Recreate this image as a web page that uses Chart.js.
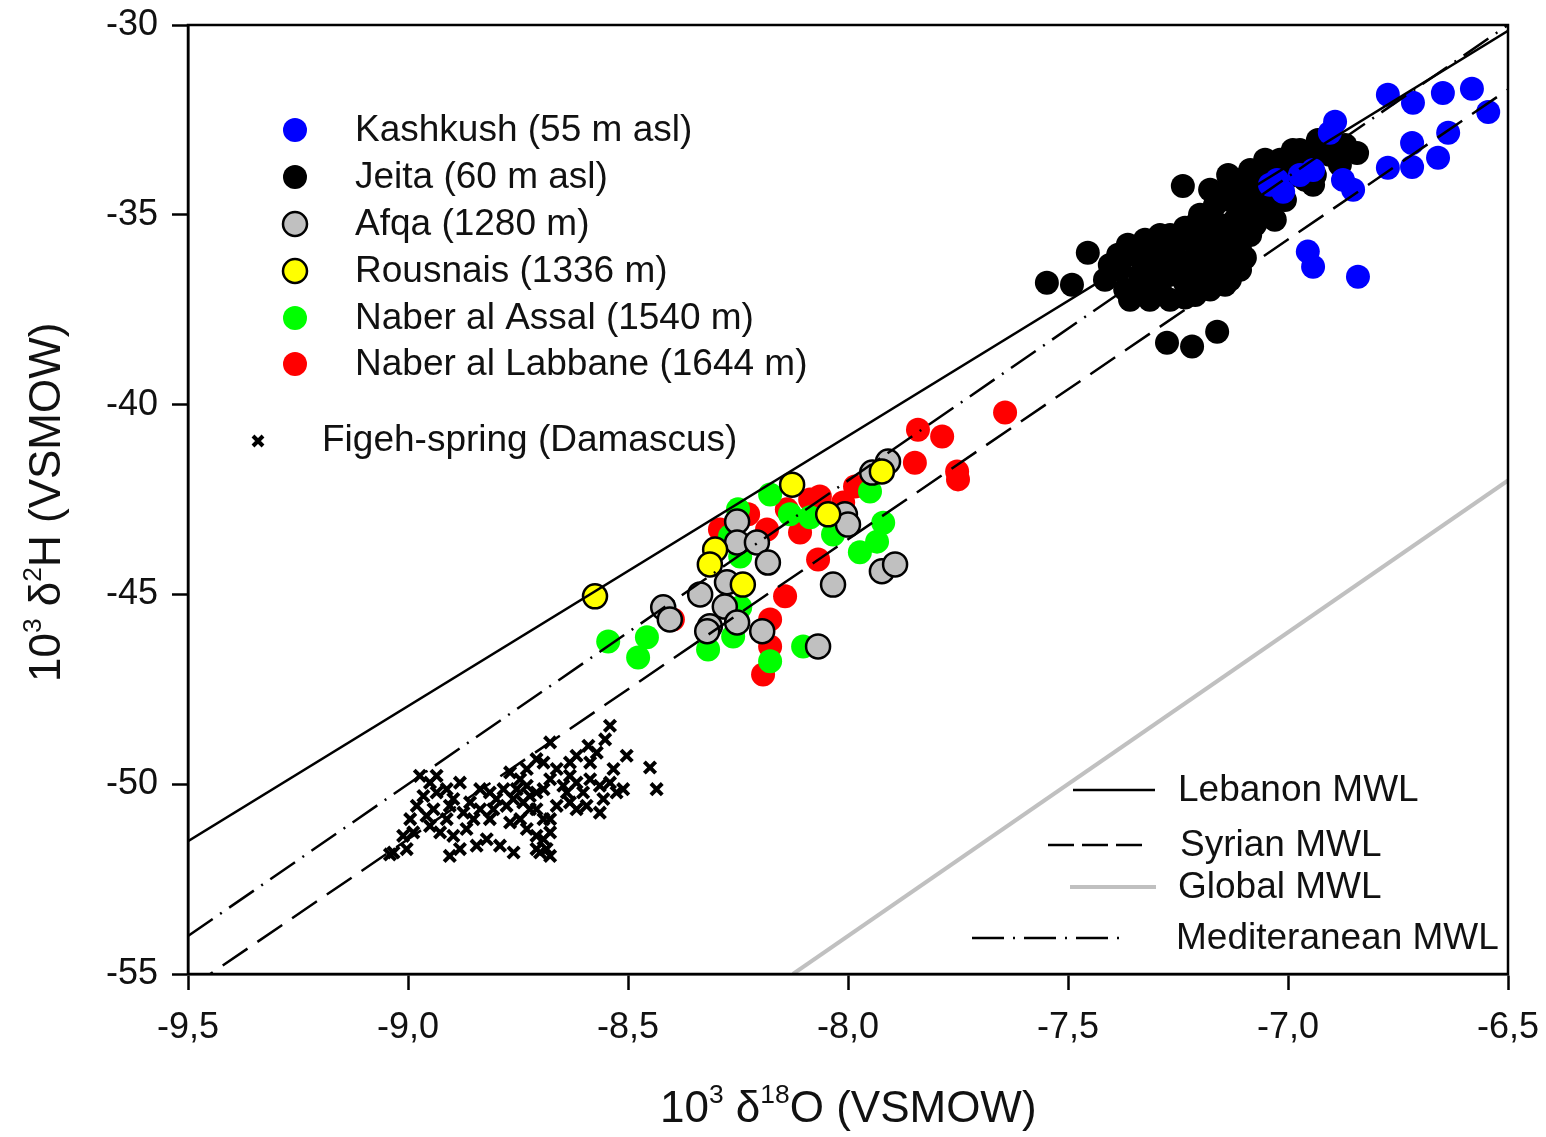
<!DOCTYPE html>
<html><head><meta charset="utf-8">
<script src="https://cdn.jsdelivr.net/npm/chart.js@4/dist/chart.umd.min.js"></script>
<style>html,body{margin:0;padding:0;background:#fff}#wrap{position:relative;width:1546px;height:1137px}</style>
</head><body><div id="wrap"><canvas id="c" width="1546" height="1137"></canvas></div>
<script>
// ---- Data ----
const xTickValues = [-9.5, -9.0, -8.5, -8.0, -7.5, -7.0, -6.5];
const xTickLabels = ['-9,5', '-9,0', '-8,5', '-8,0', '-7,5', '-7,0', '-6,5'];
const yTickValues = [-30, -35, -40, -45, -50, -55];
const yTickLabels = ['-30', '-35', '-40', '-45', '-50', '-55'];

const kashkush = [[-6.773,-31.84],[-6.716,-32.05],[-6.648,-31.79],[-6.582,-31.68],[-6.545,-32.29],[-6.893,-32.55],[-6.905,-32.84],[-6.636,-32.84],[-6.718,-33.11],[-6.718,-33.74],[-6.659,-33.50],[-6.773,-33.76],[-6.875,-34.08],[-6.852,-34.34],[-6.943,-33.82],[-7.025,-34.08],[-7.011,-34.39],[-6.955,-35.97],[-6.943,-36.37],[-6.841,-36.63],[-6.973,-33.95],[-7.041,-34.21]];

const jeita = [[-7.239,-34.24],[-7.455,-36.00],[-7.386,-36.05],[-7.548,-36.79],[-7.491,-36.84],[-7.275,-38.37],[-7.218,-38.47],[-7.161,-38.08],[-6.843,-33.37],[-6.870,-33.16],[-6.989,-33.29],[-7.052,-33.55],[-6.943,-34.21],
[-7.325,-35.66],[-7.291,-35.53],[-7.257,-35.79],[-7.223,-35.66],[-7.189,-35.53],[-7.155,-35.39],[-7.120,-35.66],[-7.314,-36.18],[-7.280,-36.05],[-7.245,-36.24],[-7.211,-36.13],[-7.177,-36.05],[-7.143,-36.24],[-7.109,-35.92],[-7.336,-36.58],[-7.302,-36.71],[-7.268,-36.58],[-7.234,-36.79],[-7.200,-36.66],[-7.166,-36.50],[-7.132,-36.71],[-7.370,-36.97],[-7.325,-37.05],[-7.291,-36.97],[-7.211,-37.11],[-7.382,-36.45],[-7.348,-36.05],[-7.416,-36.71],
[-7.200,-35.00],[-7.166,-34.74],[-7.132,-34.61],[-7.098,-34.47],[-7.064,-34.74],[-7.030,-34.47],[-7.086,-35.00],[-7.120,-35.13],[-7.155,-35.26],[-7.052,-34.21],[-7.007,-34.08],[-7.109,-34.08],[-7.143,-34.34],
[-7.086,-33.82],[-7.052,-33.68],[-7.018,-33.55],[-6.984,-33.55],[-6.950,-33.68],[-6.973,-33.29],[-6.932,-33.03],[-6.905,-33.42],[-7.041,-33.95],[-7.136,-33.95],[-7.177,-34.34],[-6.961,-34.08],
[-7.405,-36.32],[-7.364,-35.79],[-7.359,-37.24],[-7.314,-37.24],[-7.268,-37.24],[-7.234,-37.18],[-7.177,-36.97],[-7.143,-36.84],[-7.109,-36.45],[-7.098,-36.13],[-7.302,-35.87],[-7.268,-35.53],[-7.234,-35.34],[-7.200,-35.79],[-7.166,-35.79],[-7.132,-35.92],[-7.223,-36.45],[-7.189,-36.32],[-7.257,-36.39],[-7.291,-36.39],[-7.325,-36.32],[-7.086,-35.53],[-7.075,-35.26],[-7.109,-34.87],[-7.177,-35.13],[-7.211,-35.26],[-7.064,-34.34],[-7.018,-34.03],[-6.995,-33.82],[-6.927,-33.29],[-6.939,-33.95],[-7.041,-34.87],[-7.007,-34.61],[-7.030,-35.13],[-6.882,-33.68]];

const afqa = [[-8.252,-43.08],[-8.252,-43.63],[-8.207,-43.63],[-8.182,-44.16],[-8.007,-42.89],[-8.000,-43.16],[-7.945,-41.79],[-7.909,-41.50],[-7.923,-44.39],[-7.893,-44.21],[-8.034,-44.74],[-8.275,-44.68],[-8.336,-45.00],[-8.420,-45.34],[-8.405,-45.66],[-8.280,-45.32],[-8.252,-45.74],[-8.314,-45.84],[-8.320,-45.97],[-8.195,-45.97],[-8.068,-46.37]];

const rousnais = [[-8.575,-45.05],[-8.127,-42.11],[-7.923,-41.76],[-8.045,-42.89],[-8.302,-43.82],[-8.314,-44.21],[-8.239,-44.74]];

const naberAssal = [[-8.177,-42.37],[-8.250,-42.76],[-7.950,-42.29],[-8.132,-42.89],[-8.086,-42.97],[-8.034,-43.42],[-7.920,-43.11],[-7.934,-43.61],[-7.973,-43.89],[-8.245,-44.00],[-8.545,-46.24],[-8.457,-46.13],[-8.477,-46.66],[-8.318,-46.45],[-8.261,-46.11],[-8.177,-46.76],[-8.102,-46.37],[-8.245,-45.34],[-8.268,-43.47]];

const naberLabbane = [[-7.643,-40.21],[-7.841,-40.66],[-7.786,-40.84],[-7.848,-41.53],[-7.752,-41.76],[-7.750,-41.97],[-7.984,-42.16],[-8.086,-42.50],[-8.064,-42.42],[-8.011,-42.58],[-8.139,-42.76],[-8.109,-43.37],[-8.184,-43.29],[-8.291,-43.29],[-8.227,-42.89],[-8.068,-44.08],[-8.143,-45.05],[-8.177,-45.66],[-8.177,-46.37],[-8.193,-47.11],[-8.398,-45.66]];

const figeh = [[-8.541,-48.46],[-8.552,-48.82],[-8.590,-48.99],[-8.503,-49.25],[-8.450,-49.56],[-8.435,-50.13],[-8.533,-49.60],[-8.564,-50.04],[-8.602,-50.22],[-8.526,-50.22],[-8.617,-50.66],[-8.564,-50.75],[-8.677,-48.90],[-8.708,-49.34],[-8.730,-49.60],[-8.662,-49.60],[-8.768,-49.69],[-8.753,-50.13],[-8.723,-50.31],[-8.692,-50.13],[-8.662,-50.57],[-8.692,-50.92],[-8.708,-51.36],[-8.685,-51.71],[-8.723,-50.66],[-8.745,-50.92],[-8.776,-50.57],[-8.783,-50.13],[-8.814,-50.22],[-8.836,-50.13],[-8.859,-50.48],[-8.882,-49.96],[-8.912,-50.13],[-8.950,-49.96],[-8.973,-49.78],[-8.965,-50.31],[-8.942,-50.66],[-8.958,-50.83],[-8.988,-51.27],[-9.011,-51.36],[-9.033,-51.80],[-9.041,-51.85],[-8.912,-50.92],[-8.897,-51.36],[-8.882,-51.71],[-8.905,-51.89],[-8.867,-51.18],[-8.821,-51.45],[-8.791,-51.62],[-8.760,-51.80],[-8.836,-50.66],[-8.632,-49.78],[-8.617,-49.25],[-8.586,-49.43],[-8.556,-50.39],[-8.639,-50.22],[-8.745,-49.87],[-8.799,-50.39],[-8.935,-50.22],[-8.677,-51.27],[-8.700,-51.80],[-8.632,-50.48],[-8.511,-50.13],[-9.003,-51.71],
[-8.935,-49.78],[-8.897,-50.39],[-8.874,-50.75],[-8.851,-50.92],[-8.806,-50.66],[-8.761,-50.39],[-8.738,-50.48],[-8.768,-51.01],[-8.730,-51.18],[-8.708,-50.66],[-8.677,-50.92],[-8.708,-50.22],[-8.677,-49.87],[-8.647,-50.04],[-8.617,-49.96],[-8.586,-49.87],[-8.594,-50.57],[-8.541,-49.96],[-8.571,-49.17],[-8.632,-49.43],[-8.692,-49.43],[-8.730,-50.04],[-8.980,-50.57],[-8.995,-50.92],[-8.927,-51.27],[-8.844,-51.62],[-8.708,-51.71],[-8.677,-51.89],[-8.692,-51.45],[-8.950,-51.10],[-8.905,-50.57],[-8.814,-50.92]];

const lebanonMWL = [[-9.5,-51.5],[-6.5,-30.15]];
const syrianMWL = [[-9.5,-55.4],[-6.5,-31.7]];
const globalMWL = [[-8.125,-55],[-6.5,-42]];
const mediterraneanMWL = [[-9.5,-54],[-6.5,-30]];

const seriesNames = ['Kashkush (55 m asl)','Jeita (60 m asl)','Afqa (1280 m)','Rousnais (1336 m)','Naber al Assal (1540 m)','Naber al Labbane (1644 m)'];
const figehName = 'Figeh-spring (Damascus)';
const lineNames = ['Lebanon MWL','Syrian MWL','Global MWL','Mediteranean MWL'];

// ---- Build ----
const FONT = '"Liberation Sans", Arial, sans-serif';
const R = 12;
const pts = a => a.map(p => ({x: p[0], y: p[1]}));
function scatterDs(label, arr, fill, border, bw, order) {
  return {type:'scatter', label, data: pts(arr), backgroundColor: fill, borderColor: border,
    borderWidth: bw, pointRadius: R, pointHoverRadius: R, order};
}
function lineDs(label, arr, color, width, dash, order) {
  return {type:'line', label, data: pts(arr), borderColor: color, borderWidth: width,
    borderDash: dash, pointRadius: 0, fill: false, tension: 0, order};
}

const datasets = [
  lineDs(lineNames[0], lebanonMWL, '#000', 2.5, [], 0),
  lineDs(lineNames[1], syrianMWL, '#000', 2.5, [30, 12], 0),
  lineDs(lineNames[2], globalMWL, '#c0c0c0', 4, [], 0),
  lineDs(lineNames[3], mediterraneanMWL, '#000', 2.5, [30, 9, 2, 9], 0),
  scatterDs(seriesNames[3], rousnais, '#ffff00', '#000', 2.5, 1),
  scatterDs(seriesNames[2], afqa, '#c0c0c0', '#000', 2.5, 2),
  scatterDs(seriesNames[4], naberAssal, '#00ff00', '#00ff00', 0, 3),
  scatterDs(seriesNames[5], naberLabbane, '#ff0000', '#ff0000', 0, 4),
  scatterDs(seriesNames[0], kashkush, '#0000ff', '#0000ff', 0, 5),
  scatterDs(seriesNames[1], jeita, '#000', '#000', 0, 6),
  {type:'scatter', label: figehName, data: pts(figeh), pointStyle:'crossRot',
    pointRadius: 8, pointHoverRadius: 8, borderColor:'#000', borderWidth: 4, backgroundColor:'#000', order: 7}
];

function drawRich(ctx, parts, x, y, size) {
  let cx = x;
  ctx.textBaseline = 'middle';
  ctx.textAlign = 'left';
  for (const p of parts) {
    const s = p.sup ? size * 0.6 : size;
    ctx.font = s + 'px ' + FONT;
    const dy = p.sup ? -size * 0.33 : 0;
    ctx.fillText(p.t, cx, y + dy);
    cx += ctx.measureText(p.t).width;
  }
}

const overlay = {
  id: 'overlay',
  afterDatasetsDraw(chart) {
    const ctx = chart.ctx, a = chart.chartArea;
    ctx.save();
    // frame
    ctx.strokeStyle = '#000'; ctx.lineWidth = 2.5;
    ctx.strokeRect(a.left, a.top, a.right - a.left, a.bottom - a.top);
    // scatter legend
    const rows = [130, 177, 224, 271, 318, 364];
    const legFill = ['#0000ff', '#000', '#c0c0c0', '#ffff00', '#00ff00', '#ff0000'];
    const legBorder = [null, null, '#000', '#000', null, null];
    ctx.font = '37px ' + FONT; ctx.textBaseline = 'middle'; ctx.textAlign = 'left';
    rows.forEach((ry, i) => {
      ctx.beginPath(); ctx.arc(295, ry, R, 0, Math.PI * 2);
      ctx.fillStyle = legFill[i]; ctx.fill();
      if (legBorder[i]) { ctx.lineWidth = 2.5; ctx.strokeStyle = legBorder[i]; ctx.stroke(); }
      ctx.fillStyle = '#111';
      ctx.fillText(seriesNames[i], 355, ry + 1);
    });
    // Figeh legend
    ctx.strokeStyle = '#000'; ctx.lineWidth = 4;
    ctx.beginPath();
    ctx.moveTo(253, 436); ctx.lineTo(263, 446); ctx.moveTo(263, 436); ctx.lineTo(253, 446);
    ctx.stroke();
    ctx.fillStyle = '#111';
    ctx.fillText(figehName, 322, 441);
    // line legend
    const lrows = [
      {y: 790, x1: 1073, x2: 1155, tx: 1178, color: '#000', w: 2.5, dash: []},
      {y: 845, x1: 1048, x2: 1145, tx: 1180, color: '#000', w: 2.5, dash: [26, 8]},
      {y: 887, x1: 1070, x2: 1156, tx: 1178, color: '#c0c0c0', w: 4, dash: []},
      {y: 938, x1: 972, x2: 1128, tx: 1176, color: '#000', w: 2.5, dash: [32, 9, 2, 9]}
    ];
    lrows.forEach((r, i) => {
      ctx.strokeStyle = r.color; ctx.lineWidth = r.w; ctx.setLineDash(r.dash);
      ctx.beginPath(); ctx.moveTo(r.x1, r.y); ctx.lineTo(r.x2, r.y); ctx.stroke();
      ctx.setLineDash([]);
      ctx.fillStyle = '#111'; ctx.font = '37px ' + FONT;
      ctx.fillText(lineNames[i], r.tx, r.y + 1);
    });
    // axis titles
    ctx.fillStyle = '#111';
    drawRich(ctx, [{t:'10'},{t:'3',sup:true},{t:' δ'},{t:'18',sup:true},{t:'O (VSMOW)'}], 660, 1110, 44);
    ctx.save();
    ctx.translate(48, 682);
    ctx.rotate(-Math.PI / 2);
    drawRich(ctx, [{t:'10'},{t:'3',sup:true},{t:' δ'},{t:'2',sup:true},{t:'H (VSMOW)'}], 0, 0, 44);
    ctx.restore();
    ctx.restore();
  }
};

new Chart(document.getElementById('c'), {
  type: 'scatter',
  data: {datasets},
  options: {
    responsive: false, animation: false, devicePixelRatio: 1,
    layout: {padding: {left: 0, right: 38, top: 25, bottom: 0}},
    plugins: {legend: {display: false}, tooltip: {enabled: false}},
    scales: {
      x: {
        type: 'linear', min: -9.5, max: -6.5,
        afterBuildTicks: s => { s.ticks = xTickValues.map(v => ({value: v})); },
        afterFit: s => { s.height = 163; s.paddingLeft = 0; s.paddingRight = 0; },
        grid: {drawOnChartArea: false, drawTicks: true, tickLength: 16, color: '#000', tickWidth: 2.5},
        border: {display: true, color: '#000', width: 2.5},
        ticks: {color: '#111', font: {family: FONT, size: 36}, padding: 16, maxRotation: 0,
          callback: v => xTickLabels[xTickValues.findIndex(t => Math.abs(t - v) < 1e-6)]}
      },
      y: {
        type: 'linear', min: -55, max: -30,
        afterBuildTicks: s => { s.ticks = yTickValues.map(v => ({value: v})); },
        afterFit: s => { s.width = 188; s.paddingTop = 0; s.paddingBottom = 0; },
        grid: {drawOnChartArea: false, drawTicks: true, tickLength: 16, color: '#000', tickWidth: 2.5},
        border: {display: true, color: '#000', width: 2.5},
        ticks: {color: '#111', font: {family: FONT, size: 36}, padding: 14,
          callback: v => yTickLabels[yTickValues.findIndex(t => Math.abs(t - v) < 1e-6)]}
      }
    }
  },
  plugins: [overlay]
});
</script></body></html>
